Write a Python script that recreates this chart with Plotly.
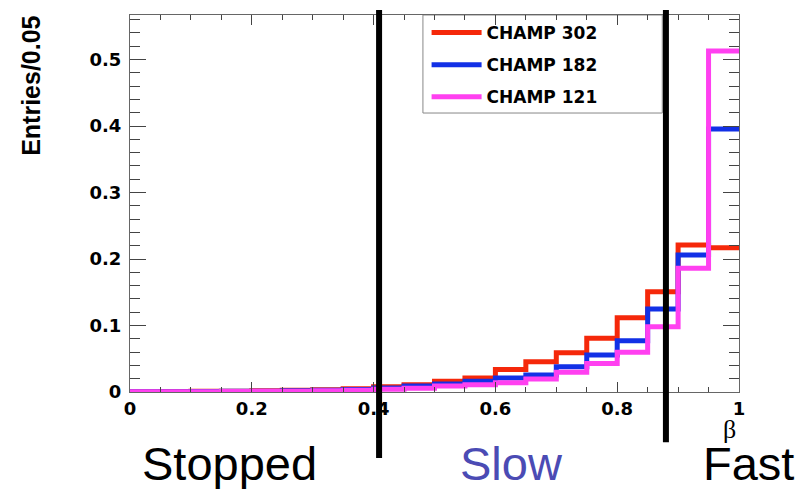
import plotly.graph_objects as go

# ---- data -------------------------------------------------------------
bin_edges = [0.0, 0.05, 0.10, 0.15, 0.20, 0.25, 0.30, 0.35, 0.40, 0.45, 0.50,
             0.55, 0.60, 0.65, 0.70, 0.75, 0.80, 0.85, 0.90, 0.95, 1.0]

champ302 = [0.0005, 0.0008, 0.0010, 0.0013, 0.0018, 0.0025, 0.0035, 0.0050,
            0.0080, 0.0110, 0.0160, 0.0210, 0.0340, 0.0456, 0.0590, 0.0807,
            0.1117, 0.1508, 0.2210, 0.2170]
champ182 = [0.0003, 0.0005, 0.0007, 0.0010, 0.0013, 0.0018, 0.0027, 0.0038,
            0.0060, 0.0090, 0.0120, 0.0160, 0.0210, 0.0256, 0.0380, 0.0556,
            0.0770, 0.1250, 0.2060, 0.3955]
champ121 = [0.0002, 0.0003, 0.0005, 0.0007, 0.0010, 0.0013, 0.0020, 0.0028,
            0.0040, 0.0058, 0.0090, 0.0110, 0.0140, 0.0195, 0.0296, 0.0430,
            0.0597, 0.0980, 0.1860, 0.5130]

series_names = ["CHAMP 302", "CHAMP 182", "CHAMP 121"]
series_colors = ["#f5280a", "#1230e6", "#ff40f0"]

cut_values = [0.409, 0.880]          # beta boundaries (Stopped | Slow | Fast)
cut_bottoms = [-0.175, -0.133]       # how far below the axis each cut line reaches (paper)
region_labels = ["Stopped", "Slow", "Fast"]
region_x = [0.164, 0.627, 1.015]
region_colors = ["black", "#4b4bb4", "black"]

x_tick_vals = [0, 0.2, 0.4, 0.6, 0.8, 1]
x_tick_text = ["0", "0.2", "0.4", "0.6", "0.8", "1"]
y_tick_vals = [0, 0.1, 0.2, 0.3, 0.4, 0.5]
y_tick_text = ["0", "0.1", "0.2", "0.3", "0.4", "0.5"]

# ---- figure -----------------------------------------------------------
fig = go.Figure()
for name, vals, col in zip(series_names, [champ302, champ182, champ121], series_colors):
    fig.add_trace(go.Scatter(
        x=bin_edges, y=vals + [vals[-1]],
        mode="lines", line=dict(shape="hv", color=col, width=5),
        name=name, legendgroup=name,
    ))

# legend frame (wider than plotly's auto-sized legend box)
fig.add_shape(type="rect", xref="paper", yref="paper",
              x0=0.481, x1=0.874, y0=0.74, y1=1.0,
              line=dict(color="#888", width=1), fillcolor="white", layer="below")

for cv, cb in zip(cut_values, cut_bottoms):
    fig.add_shape(type="line", xref="x", yref="paper", x0=cv, x1=cv,
                  y0=cb, y1=1.013, line=dict(color="black", width=6))

for lab, xv, col in zip(region_labels, region_x, region_colors):
    fig.add_annotation(text=lab, x=xv, xref="paper", y=-0.19, yref="paper",
                       showarrow=False, xanchor="center", yanchor="middle",
                       font=dict(family="Liberation Sans, Arial", size=47, color=col))

fig.add_annotation(text="β", x=0.984, xref="paper", y=-0.100, yref="paper",
                   showarrow=False, xanchor="center", yanchor="middle",
                   font=dict(family="Liberation Serif, Times New Roman", size=26, color="black"))

fig.add_annotation(text="<b>Entries/0.05</b>", x=-0.1626, xref="paper", y=0.812, yref="paper",
                   textangle=-90, showarrow=False, xanchor="center", yanchor="middle",
                   font=dict(family="Liberation Sans, Arial", size=25, color="black"))

tickfont = dict(family="DejaVu Sans", size=18, color="black", weight="bold")

fig.update_xaxes(range=[0, 1], tickvals=x_tick_vals, ticktext=x_tick_text,
                 ticks="inside", ticklen=10, tickcolor="#444", tickwidth=1,
                 minor=dict(dtick=0.05, ticks="inside", ticklen=5, tickcolor="#444"),
                 showline=True, linecolor="#666", linewidth=1, mirror="ticks",
                 showgrid=False, zeroline=False, tickfont=tickfont)
fig.update_yaxes(range=[0, 0.567], tickvals=y_tick_vals, ticktext=y_tick_text,
                 ticks="inside", ticklen=16, tickcolor="#444", tickwidth=1,
                 minor=dict(dtick=0.02, ticks="inside", ticklen=10, tickcolor="#444"),
                 showline=True, linecolor="#666", linewidth=1, mirror="ticks",
                 showgrid=False, zeroline=False, tickfont=tickfont, ticklabelstandoff=4)

fig.update_layout(
    width=800, height=489,
    margin=dict(l=130, r=61, t=15, b=97),
    paper_bgcolor="white", plot_bgcolor="white",
    legend=dict(x=0.487, y=1.0, xanchor="left", yanchor="top",
                bgcolor="rgba(0,0,0,0)", borderwidth=0, itemwidth=50,
                font=dict(family="DejaVu Sans", size=17, color="black", weight="bold"),
                tracegroupgap=7),
    showlegend=True,
)

fig.write_html("out.html", config={"displayModeBar": False},
               post_script="document.body.style.margin='0';document.body.style.padding='0';")
